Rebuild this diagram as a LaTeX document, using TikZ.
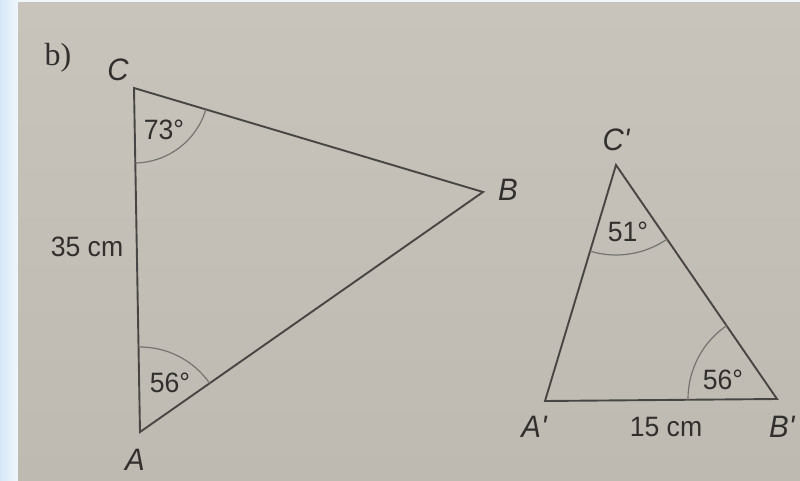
\documentclass[tikz,border=0pt]{standalone}
\usepackage{fontspec}
\setmainfont{Liberation Sans}
\newfontfamily\labfont[FakeStretch=0.95]{Liberation Sans}
\newfontfamily\serfont{Liberation Serif}
\usetikzlibrary{angles}
\definecolor{paper}{RGB}{196,192,184}
\definecolor{paperlight}{RGB}{200,196,188}
\definecolor{paperdark}{RGB}{190,186,177}
\definecolor{inkline}{RGB}{72,70,68}
\definecolor{arcink}{RGB}{118,116,112}
\definecolor{inktext}{RGB}{50,48,46}
\definecolor{slideblue}{RGB}{214,232,247}
\definecolor{slidelight}{RGB}{240,246,252}
\tikzset{
  side/.style={draw=inkline, line width=1.9pt, line join=miter},
  anglearc/.style={draw=arcink, line width=1.2pt},
  vertexlabel/.style={text=inktext, font=\labfont\itshape\fontsize{31}{36}\selectfont, inner sep=0pt},
  measlabel/.style={text=inktext, font=\labfont\fontsize{28}{33}\selectfont, inner sep=0pt},
  partlabel/.style={text=inktext, font=\serfont\fontsize{32}{37}\selectfont, inner sep=0pt}
}
\begin{document}
\begin{tikzpicture}[x=1pt,y=1pt]
\useasboundingbox (0,0) rectangle (800,480);
% slide background and paper
\shade[left color=slideblue, right color=slidelight] (0,0) rectangle (18,480);
\fill[slidelight] (18,477) rectangle (800,480);
\shade[top color=paperlight, bottom color=paperdark] (18,0) rectangle (800,477);

% large triangle
\coordinate (C) at (134,392);
\coordinate (B) at (483,288);
\coordinate (A) at (140,48);
\draw[side] (A) -- (C) -- (B) -- cycle;
\pic[anglearc, angle radius=75pt] {angle = A--C--B};
\pic[anglearc, angle radius=85pt] {angle = B--A--C};

% small triangle
\coordinate (Cp) at (616,315);
\coordinate (Ap) at (545,79);
\coordinate (Bp) at (777,81);
\draw[side] (Ap) -- (Cp) -- (Bp) -- cycle;
\pic[anglearc, angle radius=90pt] {angle = Ap--Cp--Bp};
\pic[anglearc, angle radius=89pt] {angle = Cp--Bp--Ap};

% labels
\node[partlabel] (part) at (58,422) {b)};
\node[vertexlabel] (lC) at (118,410) {C};
\node[vertexlabel] (lB) at (508,290) {B};
\node[vertexlabel] (lA) at (135,20) {A};
\node[measlabel] (l35) at (87,233) {35 cm};
\node[measlabel] (a73) at (164,350) {73°};
\node[measlabel] (a56) at (170,97) {56°};

\node[vertexlabel] (lCp) at (616,340) {C'};
\node[vertexlabel] (lAp) at (534,53) {A'};
\node[vertexlabel, anchor=west] (lBp) at (769,53) {B'};
\node[measlabel] (l15) at (666,53) {15 cm};
\node[measlabel] (a51) at (628,248) {51°};
\node[measlabel] (a56p) at (723,100) {56°};
\end{tikzpicture}
\end{document}
